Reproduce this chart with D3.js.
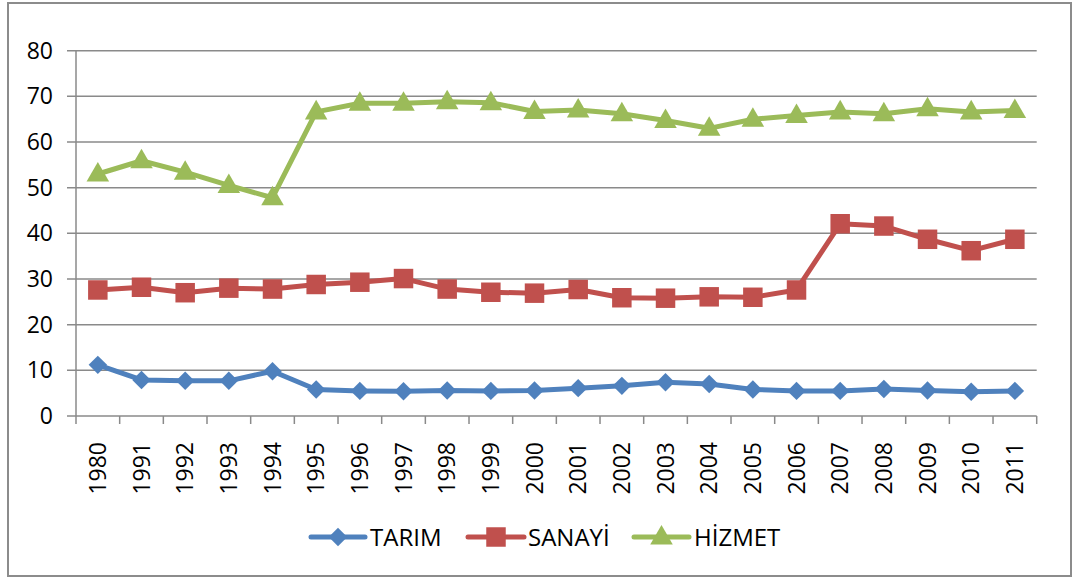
<!DOCTYPE html>
<html><head><meta charset="utf-8">
<script src="https://cdn.jsdelivr.net/npm/d3@7"></script>
<style>body{margin:0;background:#fff}svg{display:block}text{font-family:"Open Sans",sans-serif;fill:#000}</style>
</head><body><svg id="c" width="1077" height="579"></svg>
<script>
const years = ["1980","1991","1992","1993","1994","1995","1996","1997","1998","1999","2000","2001","2002","2003","2004","2005","2006","2007","2008","2009","2010","2011"];
const tarim = [11.2,7.9,7.7,7.7,9.8,5.8,5.5,5.4,5.6,5.5,5.6,6.1,6.6,7.4,7.0,5.8,5.5,5.5,5.9,5.6,5.3,5.5];
const sanayi = [27.6,28.2,27.0,28.0,27.8,28.8,29.3,30.1,27.8,27.1,26.9,27.7,25.9,25.8,26.1,26.0,27.6,42.1,41.6,38.7,36.2,38.7];
const hizmet = [53.0,55.9,53.4,50.5,47.8,66.6,68.5,68.5,68.8,68.6,66.7,67.0,66.2,64.7,63.0,65.0,65.8,66.6,66.2,67.3,66.6,66.9];
const yTicks = [0,10,20,30,40,50,60,70,80];
const seriesNames = ["TARIM","SANAYİ","HİZMET"];
const colors = ["#4F81BD","#C0504D","#9BBB59"];
const shapes = [d3.symbolSquare, d3.symbolSquare, d3.symbolTriangle];
const rots = [45,0,0];
const sizes=[170,380,220];

const svg = d3.select("#c");
svg.append("rect").attr("x",8).attr("y",3).attr("width",1063).attr("height",573)
  .attr("fill","#fff").attr("stroke","#8c8c8c").attr("stroke-width",2);

const L=76,R=1036.7,T=50.7,B=416;
const x = d3.scaleBand().domain(years).range([L,R]);
const y = d3.scaleLinear().domain([0,80]).range([B,T]);

svg.append("g").selectAll("line").data(yTicks).join("line")
  .attr("x1",L-9).attr("x2",R).attr("y1",d=>y(d)).attr("y2",d=>y(d))
  .attr("stroke","#8a8a8a").attr("stroke-width",1.5);
svg.append("line").attr("x1",L).attr("x2",L).attr("y1",T).attr("y2",B).attr("stroke","#8a8a8a").attr("stroke-width",1.5);
svg.append("g").selectAll("text").data(yTicks).join("text")
  .attr("x",53).attr("y",d=>y(d)).attr("dy","0.35em").attr("text-anchor","end")
  .style("font-size","23px").text(d=>d);
const bounds = years.map(d=>x(d)).concat([R]);
svg.append("g").selectAll("line").data(bounds).join("line")
  .attr("x1",d=>d).attr("x2",d=>d).attr("y1",B).attr("y2",B+8)
  .attr("stroke","#8a8a8a").attr("stroke-width",1.5);
svg.append("g").selectAll("text").data(years).join("text")
  .attr("transform",d=>`translate(${x(d)+x.bandwidth()/2},442) rotate(-90)`)
  .attr("text-anchor","end").attr("dy","0.35em").style("font-size","23px").text(d=>d);

const data=[tarim,sanayi,hizmet];
const line = d3.line().x((d,i)=>x(years[i])+x.bandwidth()/2).y(d=>y(d));
data.forEach((s,k)=>{
  svg.append("path").attr("d",line(s)).attr("fill","none").attr("stroke",colors[k]).attr("stroke-width",5).attr("stroke-linejoin","round");
  svg.append("g").selectAll("path").data(s).join("path")
    .attr("transform",(d,i)=>`translate(${x(years[i])+x.bandwidth()/2},${y(d)+(k==2?1:0)}) rotate(${rots[k]})`)
    .attr("d",d3.symbol().type(shapes[k]).size(sizes[k])).attr("fill",colors[k]);
});

const lg=[{x1:311,x2:365,t:370},{x1:468,x2:524,t:528},{x1:634,x2:689,t:694}];
lg.forEach((g,k)=>{
  const cy=537;
  svg.append("line").attr("x1",g.x1).attr("x2",g.x2).attr("y1",cy).attr("y2",cy).attr("stroke",colors[k]).attr("stroke-width",5).attr("stroke-linecap","round");
  svg.append("path").attr("transform",`translate(${(g.x1+g.x2)/2},${cy+(k==2?1:0)}) rotate(${rots[k]})`)
    .attr("d",d3.symbol().type(shapes[k]).size(sizes[k])).attr("fill",colors[k]);
  svg.append("text").attr("x",g.t).attr("y",cy).attr("dy","0.36em").style("font-size","24px").text(seriesNames[k]);
});
</script></body></html>
